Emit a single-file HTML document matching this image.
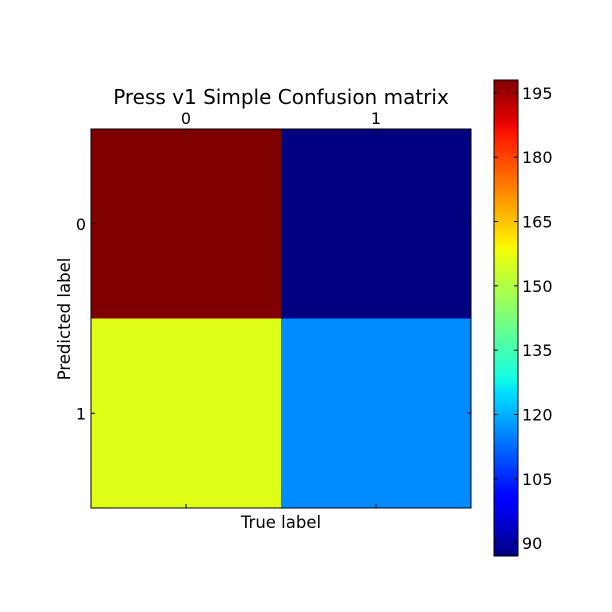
<!DOCTYPE html>
<html><head><meta charset="utf-8"><style>
body{margin:0;background:#fff;}
svg{display:block;font-family:"DejaVu Sans","Liberation Sans",sans-serif;}
</style></head><body>
<svg id="c" width="612" height="612" viewBox="0 0 612 612">
<rect width="612" height="612" fill="#fff"/>
</svg>
<script>
const rowLabels=["0","1"];
const colLabels=["0","1"];
const matrixRow0=[198,87];
const matrixRow1=[156,116];
const cbTicks=[90,105,120,135,150,165,180,195];
const vmin=87, vmax=198;

const NS="http://www.w3.org/2000/svg";
const svg=document.getElementById('c');
function mk(t,a,p){const e=document.createElementNS(NS,t);for(const k in a)e.setAttribute(k,a[k]);(p||svg).appendChild(e);return e;}
function seg(t,pts){for(let i=1;i<pts.length;i++){if(t<=pts[i][0]){const[a0,v0]=pts[i-1],[a1,v1]=pts[i];return v0+(v1-v0)*(t-a0)/(a1-a0);}}return pts[pts.length-1][1];}
function jet(t){t=Math.max(0,Math.min(1,t));
const r=seg(t,[[0,0],[0.35,0],[0.66,1],[0.89,1],[1,0.5]]);
const g=seg(t,[[0,0],[0.125,0],[0.375,1],[0.64,1],[0.91,0],[1,0]]);
const b=seg(t,[[0,0.5],[0.11,1],[0.34,1],[0.65,0],[1,0]]);
return `rgb(${Math.round(r*255)},${Math.round(g*255)},${Math.round(b*255)})`;}
const L=91,T=129,W=380,H=379;
const matrix=[matrixRow0,matrixRow1];
const cw=W/colLabels.length, ch=H/rowLabels.length;
const xc=j=>L+cw*(j+0.5), yc=i=>T+ch*(i+0.5);
matrix.forEach((row,i)=>row.forEach((v,j)=>{
 const r=mk('rect',{x:L+cw*j,y:T+ch*i,width:cw,height:ch,fill:jet((v-vmin)/(vmax-vmin))});
 
 
}));
const fr=mk('rect',{x:L,y:T,width:W,height:H,fill:'none',stroke:'#000','stroke-width':1});

colLabels.forEach((l,j)=>{const x=xc(j);
 mk('line',{x1:x,y1:T,x2:x,y2:T+4,stroke:'#000'});mk('line',{x1:x,y1:T+H,x2:x,y2:T+H-4,stroke:'#000'});
 const t=mk('text',{x:x,y:T-5,'text-anchor':'middle','font-size':16});t.textContent=l;
 });
rowLabels.forEach((l,i)=>{const y=yc(i);
 mk('line',{x1:L,y1:y,x2:L+4,y2:y,stroke:'#000'});mk('line',{x1:L+W,y1:y,x2:L+W-4,y2:y,stroke:'#000'});
 const t=mk('text',{x:L-5,y:y+6,'text-anchor':'end','font-size':16});t.textContent=l;
 });
let t=mk('text',{x:281,y:104,'text-anchor':'middle','font-size':20});t.textContent='Press v1 Simple Confusion matrix';

t=mk('text',{x:281,y:528,'text-anchor':'middle','font-size':16.5});t.textContent='True label';

t=mk('text',{x:0,y:0,'text-anchor':'middle','font-size':16.5,transform:'translate(70,319) rotate(-90)'});t.textContent='Predicted label';

const CL=494,CT=80,CW=24,CH=476;
const defs=mk('defs',{});const gr=mk('linearGradient',{id:'jg',x1:0,y1:1,x2:0,y2:0},defs);
for(let k=0;k<=50;k++)mk('stop',{offset:k/50,'stop-color':jet(k/50)},gr);
const cb=mk('rect',{x:CL,y:CT,width:CW,height:CH,fill:'url(#jg)',stroke:'#000'});

const cy=v=>CT+CH-(v-vmin)/(vmax-vmin)*CH;
cbTicks.forEach(v=>{const y=cy(v);
 mk('line',{x1:CL,y1:y,x2:CL+4,y2:y,stroke:'#000'});mk('line',{x1:CL+CW,y1:y,x2:CL+CW-4,y2:y,stroke:'#000'});
 const tt=mk('text',{x:CL+CW+4,y:y+6,'font-size':16});tt.textContent=v;
 });
</script>
</body></html>
